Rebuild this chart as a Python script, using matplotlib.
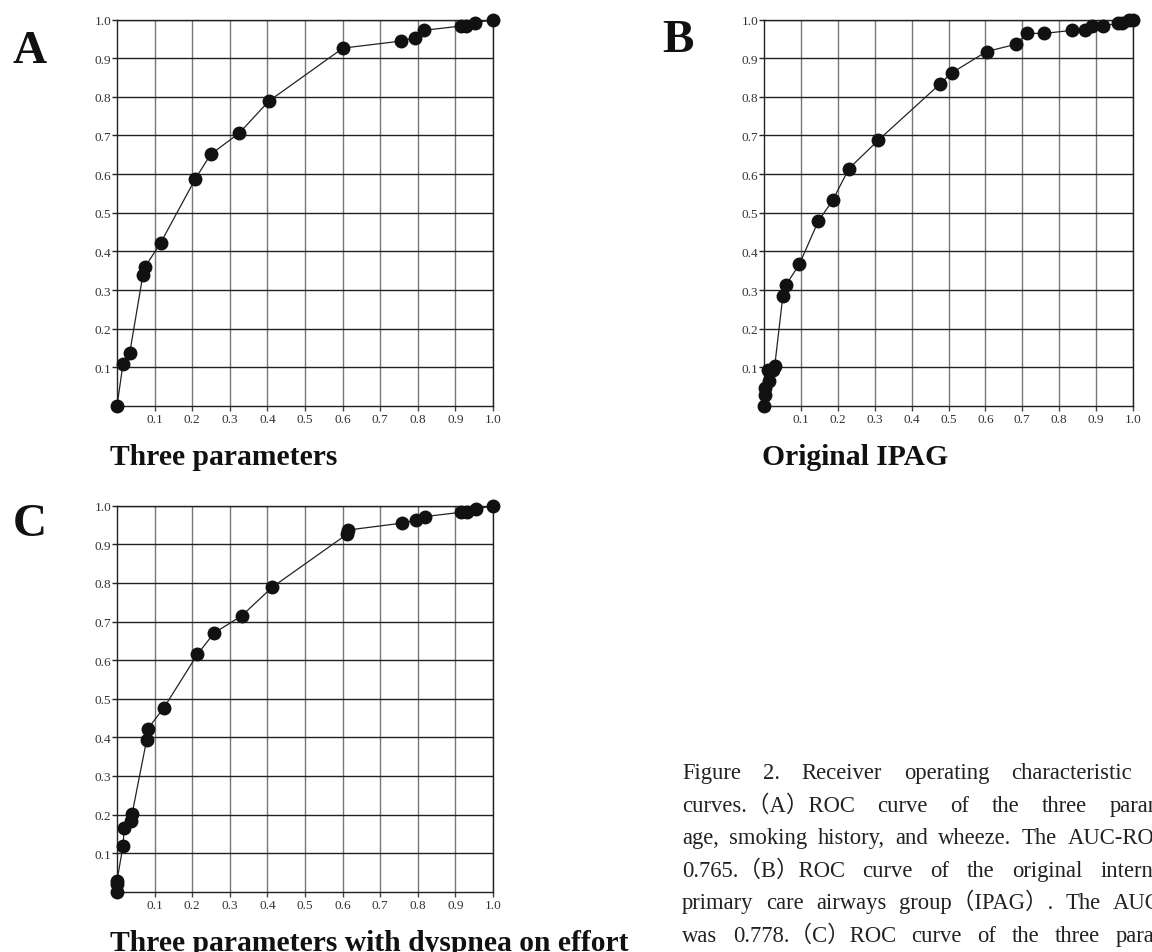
import matplotlib.pyplot as plt

# panel A: three parameters
a_fpr = [0.0, 0.016, 0.034, 0.069, 0.074, 0.116, 0.208, 0.249, 0.325, 0.404,
         0.601, 0.754, 0.792, 0.816, 0.914, 0.929, 0.953, 1.0]
a_tpr = [0.0, 0.109, 0.138, 0.340, 0.359, 0.422, 0.587, 0.651, 0.706, 0.789,
         0.926, 0.944, 0.953, 0.972, 0.983, 0.983, 0.991, 1.0]

# panel B: original IPAG
b_fpr = [0.0, 0.002, 0.002, 0.014, 0.012, 0.025, 0.029, 0.051, 0.059, 0.096,
         0.147, 0.186, 0.230, 0.310, 0.478, 0.509, 0.603, 0.683, 0.712, 0.760,
         0.835, 0.870, 0.888, 0.918, 0.959, 0.969, 0.988, 1.0]
b_tpr = [0.0, 0.028, 0.047, 0.065, 0.092, 0.092, 0.103, 0.284, 0.312, 0.367,
         0.478, 0.532, 0.614, 0.688, 0.834, 0.862, 0.917, 0.936, 0.964, 0.964,
         0.972, 0.972, 0.982, 0.982, 0.991, 0.991, 1.0, 1.0]

# panel C: three parameters with dyspnea on effort
c_fpr = [0.0, 0.0, 0.0, 0.016, 0.019, 0.038, 0.040, 0.079, 0.082, 0.125,
         0.214, 0.258, 0.332, 0.413, 0.613, 0.615, 0.759, 0.796, 0.820, 0.916,
         0.932, 0.956, 1.0]
c_tpr = [0.0, 0.020, 0.028, 0.119, 0.165, 0.184, 0.201, 0.394, 0.422, 0.477,
         0.615, 0.670, 0.715, 0.789, 0.927, 0.937, 0.955, 0.963, 0.972, 0.983,
         0.983, 0.991, 1.0]

ticks = [0.1, 0.2, 0.3, 0.4, 0.5, 0.6, 0.7, 0.8, 0.9, 1.0]
tick_labels = ['0.1', '0.2', '0.3', '0.4', '0.5', '0.6', '0.7', '0.8', '0.9', '1.0']

caption = [
    'Figure 2. Receiver operating characteristic (ROC)',
    'curves.（A）ROC curve of the three parameters:',
    'age, smoking history, and wheeze. The AUC-ROC was',
    '0.765.（B）ROC curve of the original international',
    'primary care airways group（IPAG）. The AUC-ROC',
    'was 0.778.（C）ROC curve of the three parameters',
    'and dyspnea on effort. The AUC-ROC was 0.787.',
]

plt.rcParams['font.family'] = ['Liberation Serif', 'Noto Sans CJK SC', 'DejaVu Serif']

W, H = 1152, 953


def roc_panel(fig, rect, x, y, letter, title, letter_xy, title_xy):
    ax = fig.add_axes(rect)
    ax.set_xlim(0, 1)
    ax.set_ylim(0, 1)
    ax.set_xticks(ticks)
    ax.set_yticks(ticks)
    ax.set_xticklabels(tick_labels)
    ax.set_yticklabels(tick_labels)
    ax.tick_params(labelsize=9.5, colors='#333333', width=1, length=3.6)
    ax.tick_params(axis='x', pad=1.5, color='#444444')
    ax.tick_params(axis='y', pad=0.5, color='#222222')
    ax.xaxis.grid(True, color='#777777', linewidth=1)
    ax.yaxis.grid(True, color='#222222', linewidth=1)
    ax.set_axisbelow(True)
    for s in ax.spines.values():
        s.set_color('#222222')
        s.set_linewidth(1)
    ax.plot(x, y, color='#222222', linewidth=0.9, marker='o',
            markersize=9, markerfacecolor='#111111',
            markeredgecolor='#111111', clip_on=False, zorder=3)
    fig.text(letter_xy[0] / W, 1 - letter_xy[1] / H, letter, fontsize=34,
             fontweight='bold', ha='center', va='baseline', color='#111111')
    fig.text(title_xy[0] / W, 1 - title_xy[1] / H, title, fontsize=21.3,
             fontweight='bold', ha='left', va='baseline', color='#111111')
    return ax


def justified_caption(fig, lines, left, right, top, step, size):
    fig.canvas.draw()
    r = fig.canvas.get_renderer()
    probe1 = fig.text(0, 0, 'a a', fontsize=size)
    probe2 = fig.text(0, 0, 'aa', fontsize=size)
    space = probe1.get_window_extent(r).width - probe2.get_window_extent(r).width
    probe1.remove()
    probe2.remove()
    for i, line in enumerate(lines):
        y = 1 - (top + i * step) / H
        words = line.split(' ')
        texts = [fig.text(0, y, w, fontsize=size, ha='left', va='baseline',
                          color='#222222') for w in words]
        widths = [t.get_window_extent(r).width for t in texts]
        if i < len(lines) - 1 and len(words) > 1:
            gap = (right - left - sum(widths)) / (len(words) - 1)
        else:
            gap = space
        xpos = left
        for t, w in zip(texts, widths):
            t.set_x(xpos / W)
            xpos += w + gap


def main():
    fig = plt.figure(figsize=(W / 100, H / 100), dpi=100)

    roc_panel(fig, [117 / W, 1 - 407 / H, 376 / W, 386.5 / H], a_fpr, a_tpr,
              'A', 'Three parameters', (30, 63), (110, 465))
    roc_panel(fig, [764 / W, 1 - 407 / H, 369 / W, 386.5 / H], b_fpr, b_tpr,
              'B', 'Original IPAG', (678, 52), (762, 465))
    roc_panel(fig, [117 / W, 1 - 892.7 / H, 376 / W, 386 / H], c_fpr, c_tpr,
              'C', 'Three parameters with dyspnea on effort',
              (30, 536), (110, 951))

    justified_caption(fig, caption, 682, 1215, 779, 32.6, 16.3)

    fig.savefig('out.png', dpi=100)


if __name__ == "__main__":
    main()
